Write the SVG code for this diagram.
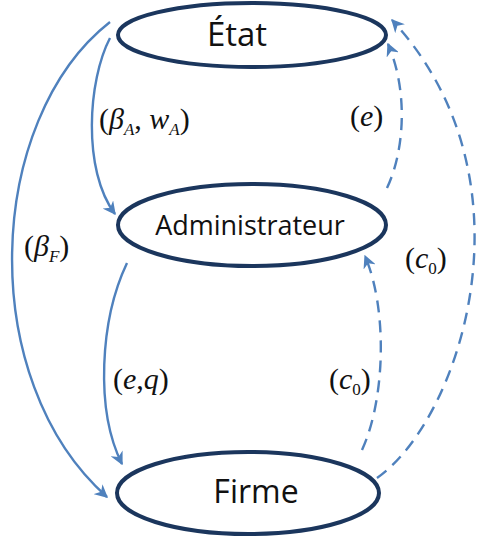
<svg xmlns="http://www.w3.org/2000/svg" width="480" height="543" viewBox="0 0 480 543">
<defs>
<marker id="ah" viewBox="0 0 10 10" refX="9" refY="5" markerWidth="5.5" markerHeight="5.5" orient="auto" markerUnits="strokeWidth">
<path d="M0,0 L10,5 L0,10 L3,5 z" fill="#4f81bd"/>
</marker>
<style>
.node{fill:#fff;stroke:#1b365d;stroke-width:4}
.lbl{font-family:"Open Sans","Liberation Sans",sans-serif;fill:#111;text-anchor:middle}
.edge{fill:none;stroke:#4f81bd;stroke-width:2.4;marker-end:url(#ah)}
.dash{stroke-dasharray:12 8}
.m{font-family:"Liberation Serif","Times New Roman",serif;fill:#111;font-size:30px}
.i{font-style:italic}
.s{font-size:17px;font-style:italic}
</style>
</defs>
<rect width="480" height="543" fill="#fff"/>
<g id="connectors">
<path class="edge" d="M110,22 C-15,120 -25,380 107,497"/>
<path class="edge" d="M110,38 C88,80 82,170 115,214"/>
<path class="edge" d="M127,263 C100,320 95,410 122,464"/>
<path class="edge dash" d="M362,450 C385,400 388,310 365,256"/>
<path class="edge dash" d="M387,188 C405,150 408,90 388,44"/>
<path class="edge dash" d="M377,478 C460,420 540,180 392,20"/>
</g>
<g id="etat">
<ellipse class="node" cx="252" cy="35" rx="134" ry="32"/>
<text class="lbl" x="237" y="46" font-size="33">État</text>
</g>
<g id="administrateur">
<ellipse class="node" cx="252" cy="225" rx="134" ry="41"/>
<text class="lbl" x="250" y="235" font-size="27">Administrateur</text>
</g>
<g id="firme">
<ellipse class="node" cx="248" cy="493" rx="131" ry="41"/>
<text class="lbl" x="256" y="503" font-size="32">Firme</text>
</g>
<g id="labels">
<text class="m" x="99" y="129">(<tspan class="i">β</tspan><tspan class="s" dy="6">A</tspan><tspan dy="-6">, </tspan><tspan class="i">w</tspan><tspan class="s" dy="6">A</tspan><tspan dy="-6">)</tspan></text>
<text class="m" x="350" y="126">(<tspan class="i">e</tspan>)</text>
<text class="m" x="24" y="256">(<tspan class="i">β</tspan><tspan class="s" dy="6">F</tspan><tspan dy="-6">)</tspan></text>
<text class="m" x="405" y="268">(<tspan class="i">c</tspan><tspan font-size="17" dy="6">0</tspan><tspan dy="-6">)</tspan></text>
<text class="m" x="113" y="389">(<tspan class="i">e</tspan>,<tspan class="i">q</tspan>)</text>
<text class="m" x="329" y="389">(<tspan class="i">c</tspan><tspan font-size="17" dy="6">0</tspan><tspan dy="-6">)</tspan></text>
</g>
</svg>
